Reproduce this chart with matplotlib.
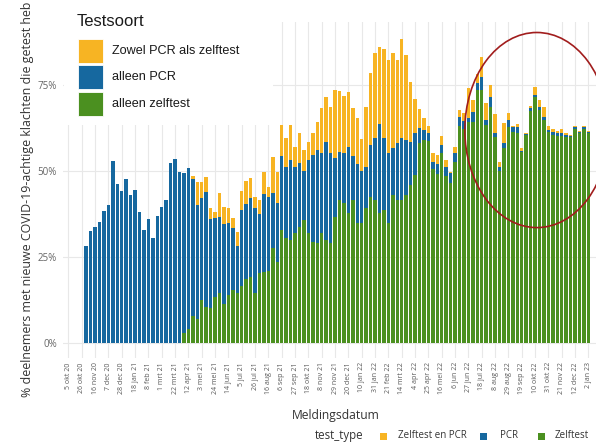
import numpy as np
import pandas as pd
import matplotlib
matplotlib.use('Agg')
import matplotlib.pyplot as plt
import matplotlib.dates as mdates
from matplotlib.patches import Rectangle, Ellipse

# ---------------- data ----------------
first_week = '2020-11-02'
tick_start = '2020-10-05'
tick_labels = ['5 okt 20', '26 okt 20', '16 nov 20', '7 dec 20', '28 dec 20', '18 jan 21',
               '8 feb 21', '1 mrt 21', '22 mrt 21', '12 apr 21', '3 mei 21', '24 mei 21',
               '14 jun 21', '5 jul 21', '26 jul 21', '16 aug 21', '6 sep 21', '27 sep 21',
               '18 okt 21', '8 nov 21', '29 nov 21', '20 dec 21', '10 jan 22', '31 jan 22',
               '21 feb 22', '14 mrt 22', '4 apr 22', '25 apr 22', '16 mei 22', '6 jun 22',
               '27 jun 22', '18 jul 22', '8 aug 22', '29 aug 22', '19 sep 22', '10 okt 22',
               '31 okt 22', '21 nov 22', '12 dec 22', '2 jan 23']
legend_title = 'Testsoort'
categories = ['Zowel PCR als zelftest', 'alleen PCR', 'alleen zelftest']
bottom_title = 'test_type'
bottom_labels = ['Zelftest en PCR', 'PCR', 'Zelftest']

# alleen zelftest (green)
zelftest = [0, 0, 0, 0, 0, 0, 0, 0, 0, 0, 0, 0, 0, 0, 0, 0, 0, 0, 0, 0, 0, 0,
            2.7, 4.0, 7.8, 6.8, 12.4, 10.5, 10.0, 13.4, 14.5, 11.2, 13.9, 15.3, 14.4, 16.5,
            18.4, 19.2, 14.5, 20.2, 20.4, 20.9, 27.4, 23.5,
            32.8, 30.3, 29.7, 31.8, 33.7, 35.7, 31.8, 29.4, 28.9, 31.8, 29.7, 28.9, 36.5,
            41.5, 40.5, 37.6, 41.5, 34.9, 34.9, 39.1, 42.4, 41.5, 37.6, 38.6, 34.7, 42.9,
            41.5, 41.5, 43.0, 45.8, 48.7,
            58.0, 59.0, 58.5, 50.5, 49.0, 55.0, 48.5, 46.5, 52.5, 63.0, 62.0, 64.2, 64.0,
            73.4, 73.5, 63.3, 68.6, 59.9, 50.0, 56.5, 62.8, 61.3, 61.0, 55.5, 60.4, 67.4,
            71.5, 67.6, 64.7, 61.3, 60.4, 60.2, 60.0, 59.8, 59.8, 62.0, 60.8, 62.0, 60.8]
# alleen PCR (blue)
pcr = [28.2, 32.5, 33.7, 35.0, 38.3, 40.0, 52.9, 46.0, 44.0, 47.6, 42.8, 44.4, 37.9, 32.8,
       35.9, 30.3, 36.9, 39.5, 41.5, 52.2, 53.4, 49.7,
       46.5, 46.7, 39.7, 33.2, 29.6, 33.4, 25.9, 22.8, 22.1, 23.3, 21.0, 17.9, 13.6, 22.1,
       21.9, 22.8, 24.6, 17.1, 22.8, 21.4, 16.0, 17.2,
       21.5, 20.9, 23.4, 19.2, 18.6, 14.3, 21.3, 25.2, 27.1, 23.2, 28.5, 26.1, 17.1, 14.0,
       14.5, 19.4, 12.8, 17.1, 15.1, 11.9, 15.1, 17.9, 25.9, 20.8, 20.3, 13.6, 16.5, 17.9,
       16.0, 12.6, 12.3,
       4.5, 2.8, 2.5, 2.0, 3.0, 2.5, 2.5, 2.8, 2.5, 2.5, 2.5, 1.0, 3.0, 2.1, 3.8, 1.4, 2.9,
       1.0, 1.2, 1.5, 1.9, 1.3, 1.6, 0.3, 0.2, 0.7, 0.5, 0.8, 1.0, 0.5, 0.9, 0.8, 0.8, 0.6,
       0.3, 0.8, 0.5, 0.6, 0.4]
# zowel PCR als zelftest (yellow)
beide = [0, 0, 0, 0, 0, 0, 0, 0, 0, 0, 0, 0, 0, 0, 0, 0, 0, 0, 0, 0, 0, 0, 0, 0,
         0.8, 6.8, 4.8, 4.2, 3.1, 1.9, 6.8, 4.8, 4.2, 3.0, 4.3, 5.5, 6.7, 5.8, 3.2, 4.2,
         6.5, 3.0, 10.5, 9.0,
         9.0, 8.2, 10.2, 6.0, 8.6, 6.0, 5.3, 6.4, 8.2, 13.3, 13.3, 13.4, 19.9, 17.7, 16.7,
         16.0, 14.0, 13.2, 9.2, 17.6, 20.8, 24.9, 22.5, 26.0, 27.2, 27.8, 24.2, 28.8, 24.6,
         17.5, 9.8,
         5.3, 3.4, 2.1, 2.5, 2.5, 2.5, 2.0, 0.2, 2.0, 2.1, 2.2, 8.8, 3.5, 2.5, 5.7, 4.9, 3.4,
         5.5, 1.4, 5.8, 2.0, 0.4, 0.9, 0.7, 0.4, 0.7, 2.2, 2.1, 2.7, 1.2, 0.7, 0.5, 1.2, 0.4,
         0.4, 0.2, 0.2, 0.4, 0.2]

y_ticks = [0, 25, 50, 75]
y_ticklabels = ['0%', '25%', '50%', '75%']

col_yellow = '#F7B423'
col_blue = '#16689F'
col_green = '#4B9020'
colors = [col_yellow, col_blue, col_green]

# ---------------- figure ----------------
W, H = 596, 446
fig = plt.figure(figsize=(W / 100, H / 100), dpi=100)
fig.patch.set_facecolor('white')

def fx(px):
    return px / W

def fy(py):
    return 1 - py / H

ax_l, ax_r, ax_t, ax_b = 63, 596, 22, 358
ax = fig.add_axes([fx(ax_l), fy(ax_b), (ax_r - ax_l) / W, (ax_b - ax_t) / H])

dates = pd.date_range(first_week, periods=len(zelftest), freq='7D')
g = np.array(zelftest)
b = np.array(pcr)
y = np.array(beide)
bw = 5.5
ax.bar(dates, g, width=bw, color=col_green, linewidth=0, zorder=3)
ax.bar(dates, b, bottom=g, width=bw, color=col_blue, linewidth=0, zorder=3)
ax.bar(dates, y, bottom=g + b, width=bw, color=col_yellow, linewidth=0, zorder=3)

t0 = mdates.date2num(pd.Timestamp(tick_start))
tick_dates = pd.date_range(tick_start, periods=len(tick_labels), freq='21D')
ax.set_xticks(mdates.date2num(tick_dates))
ax.set_xticklabels(tick_labels, rotation=90, fontsize=5, color='#585858',
                   family='Open Sans', va='top', ha='center')
ax.set_xlim(t0 - 8.5, t0 + 831)
ax.set_ylim(-4.45, 93.2)
ax.set_yticks(y_ticks)
ax.set_yticklabels(y_ticklabels, fontsize=7, color='#666666', family='Open Sans')
ax.tick_params(axis='both', length=0)
ax.tick_params(axis='x', pad=3)
ax.tick_params(axis='y', pad=4.5)
for s in ax.spines.values():
    s.set_visible(False)
ax.grid(True, color='#e8e8e8', linewidth=0.8, zorder=0)
ax.set_axisbelow(True)

# red ellipse annotation
ell = Ellipse((t0 + 105.4 * 7, 61.8), width=32.4 * 7, height=56.7, fill=False,
              edgecolor='#a11d1d', linewidth=1.2, zorder=5, clip_on=False)
ax.add_patch(ell)

# axis titles
fig.text(fx(28), fy(397), '% deelnemers met nieuwe COVID-19-achtige klachten die getest heb',
         rotation=90, ha='center', va='bottom', fontsize=8.95, family='Open Sans', color='#333333')
fig.text(fx(336), fy(416), 'Meldingsdatum', ha='center', va='center', fontsize=8.7,
         family='Open Sans', color='#333333')

# inner legend (white box over grid)
fig.add_artist(Rectangle((fx(64), fy(125)), (273 - 64) / W, (125 - 0) / H,
                         transform=fig.transFigure, facecolor='white', edgecolor='none', zorder=2))
fig.text(fx(77), fy(22), legend_title, ha='left', va='center', fontsize=12,
         family='Liberation Sans', color='#1a1a1a', zorder=3)
key_tops = [39, 65, 92]
for lab, col, kt in zip(categories, colors, key_tops):
    fig.add_artist(Rectangle((fx(78), fy(kt + 24)), 25 / W, 24 / H, transform=fig.transFigure,
                             facecolor=col, edgecolor='white', linewidth=0.6, zorder=3))
    fig.text(fx(112), fy(kt + 12), lab, ha='left', va='center', fontsize=9.1,
             family='Liberation Sans', color='#1a1a1a', zorder=3)

# bottom legend
fig.text(fx(315), fy(436), bottom_title, ha='left', va='center', fontsize=8.3,
         family='Open Sans', color='#333333')
bx = [380, 480, 538]
lx = [398, 500, 555]
for lab, col, kx, tx in zip(bottom_labels, colors, bx, lx):
    fig.add_artist(Rectangle((fx(kx), fy(440)), 7 / W, 7 / H, transform=fig.transFigure,
                             facecolor=col, edgecolor='none'))
    fig.text(fx(tx), fy(436), lab, ha='left', va='center', fontsize=7,
             family='Open Sans', color='#333333')

fig.savefig('out.png', dpi=100)
